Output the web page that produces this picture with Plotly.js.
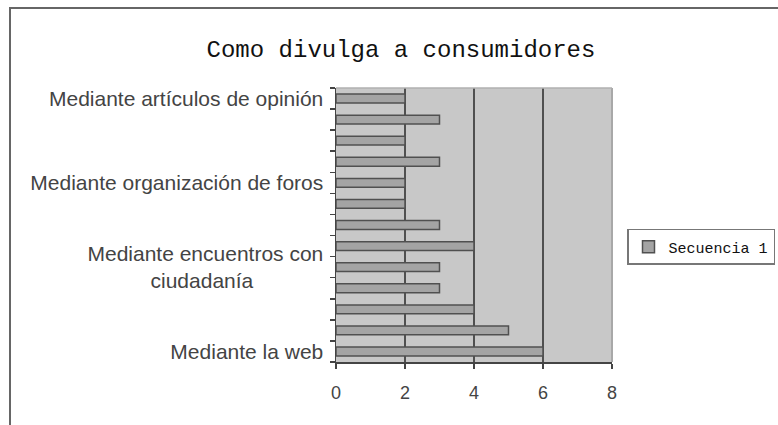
<!DOCTYPE html>
<html>
<head>
<meta charset="utf-8">
<script src="https://cdn.plot.ly/plotly-3.0.1.min.js"></script>
<style>
html,body{margin:0;padding:0;background:#fff;}
#wrap{position:relative;width:778px;height:425px;overflow:hidden;}
#frame{position:absolute;left:9px;top:7px;width:900px;height:500px;border-left:2px solid #666;border-top:2px solid #666;pointer-events:none;z-index:5;}
#chart{position:absolute;left:0;top:0;width:900px;height:425px;}
</style>
</head>
<body>
<div id="wrap"><div id="chart"></div><div id="frame"></div></div>
<script>
// Categories from top to bottom (only every 4th label is printed in the reference)
const categories = [
  "Mediante artículos de opinión",
  "cat2", "cat3", "cat4",
  "Mediante organización de foros",
  "cat6", "cat7", "cat8",
  "Mediante encuentros con ciudadanía",
  "cat10", "cat11", "cat12",
  "Mediante la web"
];
const tickLabels = [
  "Mediante artículos de opinión",
  "", "", "",
  "Mediante organización de foros",
  "", "", "",
  "Mediante encuentros con<br>ciudadanía\u00a0\u00a0\u00a0\u00a0\u00a0\u00a0\u00a0\u00a0\u00a0\u00a0\u00a0\u00a0",
  "", "", "",
  "Mediante la web"
];
const values = [2, 3, 2, 3, 2, 2, 3, 4, 3, 3, 4, 5, 6];
const seriesName = "Secuencia 1";
const xTicks = [0, 2, 4, 6, 8];

const trace = {
  type: "bar",
  orientation: "h",
  x: values,
  y: categories,
  name: seriesName,
  width: 0.42,
  marker: {color: "#a4a4a4", line: {color: "#505050", width: 1.5}},
  showlegend: true,
  hoverinfo: "x+y"
};

const layout = {
  width: 900, height: 425,
  margin: {l: 336, r: 288, t: 88, b: 63},
  paper_bgcolor: "#ffffff",
  plot_bgcolor: "#c8c8c8",
  title: {
    text: "Como divulga a consumidores",
    font: {family: "Liberation Mono, Courier New, monospace", size: 24, color: "#111"},
    x: 401 / 900, xanchor: "center", xref: "container",
    y: 0.885, yanchor: "middle", yref: "container"
  },
  xaxis: {
    range: [0, 8],
    tickmode: "array", tickvals: xTicks, ticktext: xTicks.map(String),
    showgrid: true, gridcolor: "#505050", gridwidth: 1.5,
    zeroline: false,
    showline: true, linecolor: "#444", linewidth: 1.5,
    ticks: "outside", ticklen: 5, tickcolor: "#444", tickwidth: 1.5,
    ticklabelstandoff: 9,
    tickfont: {family: "Liberation Sans, Arial, sans-serif", size: 18, color: "#444"},
    fixedrange: true
  },
  yaxis: {
    type: "category",
    categoryorder: "array", categoryarray: categories,
    autorange: "reversed",
    tickmode: "array", tickvals: categories, ticktext: tickLabels,
    tickson: "boundaries",
    showgrid: false, zeroline: false,
    showline: true, linecolor: "#444", linewidth: 1.5,
    ticks: "outside", ticklen: 5, tickcolor: "#444", tickwidth: 1.5,
    ticklabelstandoff: 7,
    tickfont: {family: "Liberation Sans, Arial, sans-serif", size: 21, color: "#444"},
    fixedrange: true
  },
  legend: {
    x: (627 - 336) / 276, xanchor: "left", y: 0.42, yanchor: "middle",
    bgcolor: "#ffffff", bordercolor: "#777", borderwidth: 1.5,
    itemwidth: 30,
    font: {family: "Liberation Mono, Courier New, monospace", size: 15, color: "#111"}
  },
  shapes: [
    {type: "line", xref: "paper", yref: "paper", x0: 1, x1: 1, y0: 0, y1: 1,
     line: {color: "#a8a8a8", width: 2}},
    {type: "line", xref: "paper", yref: "paper", x0: 0, x1: 1, y0: 1, y1: 1,
     line: {color: "#b0b0b0", width: 1.5}}
  ],
  bargap: 0.5
};

Plotly.newPlot("chart", [trace], layout, {displayModeBar: false, staticPlot: true});
</script>
</body>
</html>
